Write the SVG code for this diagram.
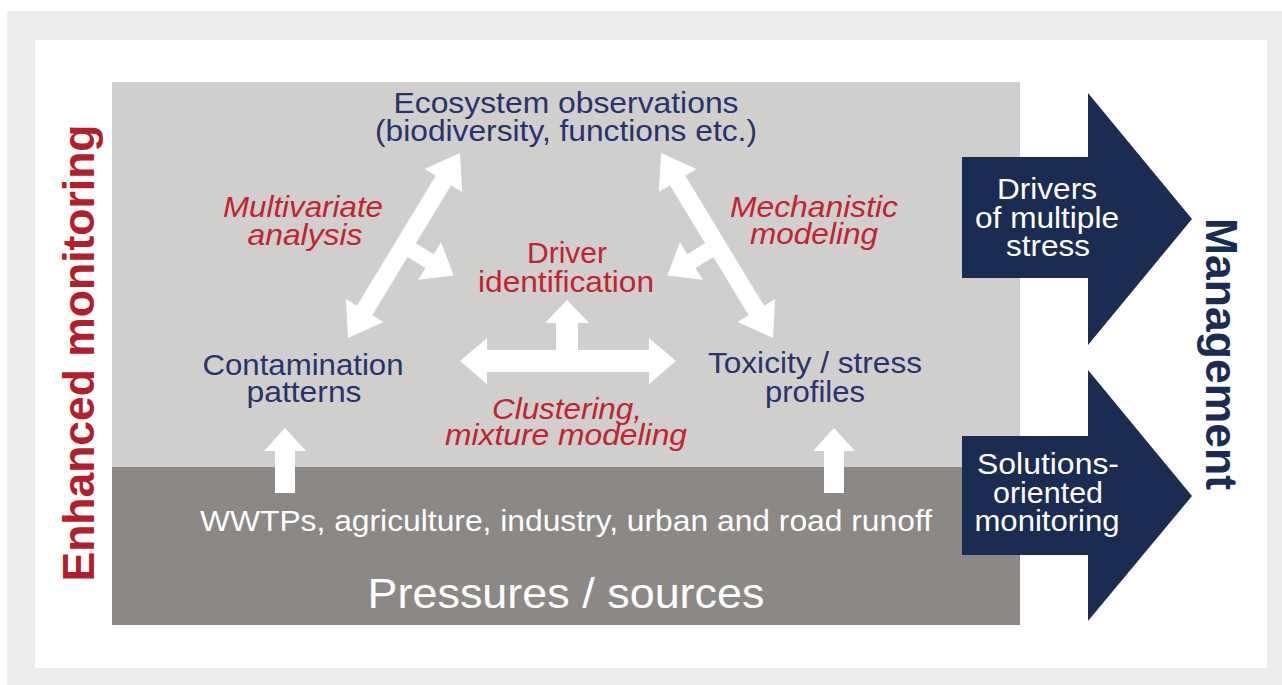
<svg xmlns="http://www.w3.org/2000/svg" width="1282" height="685" viewBox="0 0 1282 685">
<defs>
<style>
.t{font-family:"Liberation Sans",Arial,sans-serif;text-anchor:middle}
.navy{fill:#28336b;font-size:30px}
.red{fill:#c0242e;font-size:30px;font-style:italic}
.redn{fill:#c0242e;font-size:30px}
.wh{fill:#ffffff}
.arr{fill:#ffffff}
.big{fill:#1b2c52}
</style>
<path id="dbl" d="M-108,0 L-76,-22 L-76,-9 L76,-9 L76,-22 L108,0 L76,22 L76,9 L8,9 L8,30 L22,30 L0,58 L-22,30 L-8,30 L-8,9 L-76,9 L-76,22 Z"/>
</defs>
<rect x="0" y="0" width="1282" height="685" fill="#ffffff"/>
<rect x="7" y="11" width="1275" height="674" fill="#ededed"/>
<rect x="35" y="40" width="1232" height="628" fill="#ffffff"/>
<g id="upper-panel"><rect x="112" y="82" width="908" height="385" fill="#d0cfcd"/></g>
<g id="pressures">
<rect x="112" y="467" width="908" height="158" fill="#8b8885"/>
<text class="t wh" x="566" y="531" font-size="30" textLength="732" lengthAdjust="spacingAndGlyphs">WWTPs, agriculture, industry, urban and road runoff</text>
<text class="t wh" x="566" y="608" font-size="42" textLength="397" lengthAdjust="spacingAndGlyphs">Pressures / sources</text>
</g>
<g id="connectors" class="arr">
<use href="#dbl" transform="translate(404,245.5) rotate(-58.8)"/>
<use href="#dbl" transform="translate(717,245.5) scale(-1,1) rotate(-58.8)"/>
<path d="M460,361 L487,338 L487,350 L556,350 L556,323 L545,323 L567,300 L589,323 L578,323 L578,350 L649,350 L649,338 L676,361 L649,384 L649,372 L487,372 L487,384 Z"/>
<path d="M285,428 L306,451 L295,451 L295,493 L275,493 L275,451 L264,451 Z"/>
<path d="M834,428 L855,451 L844,451 L844,493 L824,493 L824,451 L813,451 Z"/>
</g>
<g id="ecosystem"><text class="t navy"><tspan x="566" y="113" textLength="345" lengthAdjust="spacingAndGlyphs">Ecosystem observations</tspan><tspan x="566" y="141" textLength="382" lengthAdjust="spacingAndGlyphs">(biodiversity, functions etc.)</tspan></text></g>
<g id="multivariate"><text class="t red"><tspan x="303" y="217" textLength="160" lengthAdjust="spacingAndGlyphs">Multivariate</tspan><tspan x="305" y="245" textLength="115" lengthAdjust="spacingAndGlyphs">analysis</tspan></text></g>
<g id="mechanistic"><text class="t red"><tspan x="814" y="217" textLength="168" lengthAdjust="spacingAndGlyphs">Mechanistic</tspan><tspan x="814" y="244" textLength="128" lengthAdjust="spacingAndGlyphs">modeling</tspan></text></g>
<g id="driver"><text class="t redn"><tspan x="567" y="263" textLength="80" lengthAdjust="spacingAndGlyphs">Driver</tspan><tspan x="566" y="292" textLength="176" lengthAdjust="spacingAndGlyphs">identification</tspan></text></g>
<g id="contamination"><text class="t navy"><tspan x="303" y="375" textLength="201" lengthAdjust="spacingAndGlyphs">Contamination</tspan><tspan x="304" y="402" textLength="115" lengthAdjust="spacingAndGlyphs">patterns</tspan></text></g>
<g id="toxicity"><text class="t navy"><tspan x="815" y="373" textLength="214" lengthAdjust="spacingAndGlyphs">Toxicity / stress</tspan><tspan x="815" y="402" textLength="100" lengthAdjust="spacingAndGlyphs">profiles</tspan></text></g>
<g id="clustering"><text class="t red"><tspan x="567" y="419" textLength="150" lengthAdjust="spacingAndGlyphs">Clustering,</tspan><tspan x="566" y="445" textLength="242" lengthAdjust="spacingAndGlyphs">mixture modeling</tspan></text></g>
<g id="drivers-arrow">
<path class="big" d="M962,157 L1088,157 L1088,93 L1192,219 L1088,345 L1088,278 L962,278 Z"/>
<text class="t wh" font-size="29"><tspan x="1047" y="199" textLength="100" lengthAdjust="spacingAndGlyphs">Drivers</tspan><tspan x="1047" y="228" textLength="144" lengthAdjust="spacingAndGlyphs">of multiple</tspan><tspan x="1048" y="256" textLength="84" lengthAdjust="spacingAndGlyphs">stress</tspan></text>
</g>
<g id="solutions-arrow">
<path class="big" d="M962,436 L1088,436 L1088,370 L1192,496 L1088,621 L1088,555 L962,555 Z"/>
<text class="t wh" font-size="29"><tspan x="1048" y="474" textLength="142" lengthAdjust="spacingAndGlyphs">Solutions-</tspan><tspan x="1048" y="503" textLength="110" lengthAdjust="spacingAndGlyphs">oriented</tspan><tspan x="1047" y="531" textLength="145" lengthAdjust="spacingAndGlyphs">monitoring</tspan></text>
</g>
<g id="enhanced-monitoring"><text class="t" transform="translate(94,353) rotate(-90)" font-size="44" font-weight="bold" fill="#b11f2b" textLength="457" lengthAdjust="spacingAndGlyphs">Enhanced monitoring</text></g>
<g id="management"><text class="t" transform="translate(1206,354) rotate(90)" font-size="44" font-weight="bold" fill="#1b2c52" textLength="272" lengthAdjust="spacingAndGlyphs">Management</text></g>
</svg>
